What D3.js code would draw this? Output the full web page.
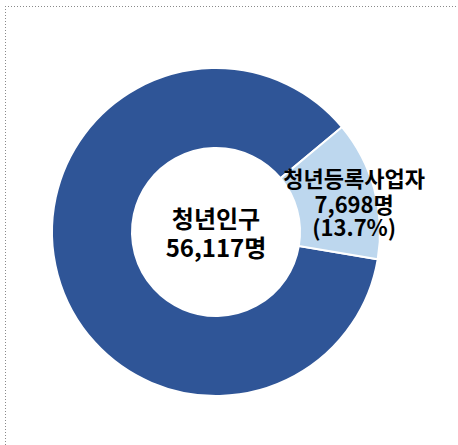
<!DOCTYPE html>
<html>
<head>
<meta charset="utf-8">
<script src="https://cdn.jsdelivr.net/npm/d3@7"></script>
<style>
  body { margin: 0; background: #fff; }
  svg { display: block; }
  text { font-family: "Noto Sans CJK KR", "Noto Sans", sans-serif; font-weight: bold; fill: #000; }
</style>
</head>
<body>
<svg id="chart" width="458" height="445"></svg>
<script>
// data
let categories = ['청년인구', '청년등록사업자'];
let totals = [56117, 7698];          // people
let shareLabel = '(13.7%)';

let width = 458, height = 445;
let origin = [216, 232], outerR = 164, innerR = 84;
let colors = ['#2F5597', '#BDD7EE'];

let svg = d3.select('#chart');

// dotted frame (top and left only visible in the crop)
svg.append('line')
  .attr('x1', 5).attr('y1', 6.5).attr('x2', 456).attr('y2', 6.5)
  .attr('stroke', '#8a8a8a').attr('stroke-width', 1).attr('stroke-dasharray', '1,2');
svg.append('line')
  .attr('x1', 5.5).attr('y1', 6).attr('x2', 5.5).attr('y2', height)
  .attr('stroke', '#8a8a8a').attr('stroke-width', 1).attr('stroke-dasharray', '1,2');

// the small slice is a part of the whole population
let values = [totals[0] - totals[1], totals[1]];
let start = 99.6 * Math.PI / 180;

let pie = d3.pie().sort(null).startAngle(start).endAngle(start + 2 * Math.PI);
let arcs = pie(values);

let arc = d3.arc().innerRadius(innerR).outerRadius(outerR);
let labelArc = d3.arc().innerRadius(140).outerRadius(140);

let g = svg.append('g').attr('transform', 'translate(' + origin + ')');

g.selectAll('path.slice')
  .data(arcs)
  .enter()
  .append('path')
  .attr('class', 'slice')
  .attr('d', arc)
  .attr('fill', function(d, i){ return colors[i]; })
  .attr('stroke', '#fff')
  .attr('stroke-width', 2);

let fmt = d3.format(',');

// centre label
let centre = g.append('text').attr('text-anchor', 'middle').style('font-size', '24px');
centre.append('tspan').attr('x', 0).attr('y', -4).text(categories[0]);
centre.append('tspan').attr('x', 0).attr('y', 25).text(fmt(totals[0]) + '명');

// small slice label
let c = labelArc.centroid(arcs[1]);
let side = g.append('text').attr('text-anchor', 'middle').style('font-size', '22px');
side.append('tspan').attr('x', c[0] + 3).attr('y', c[1] - 9).text(categories[1]);
side.append('tspan').attr('x', c[0] + 3).attr('y', c[1] + 17).text(fmt(totals[1]) + '명');
side.append('tspan').attr('x', c[0] + 3).attr('y', c[1] + 40).text(shareLabel);
</script>
</body>
</html>
